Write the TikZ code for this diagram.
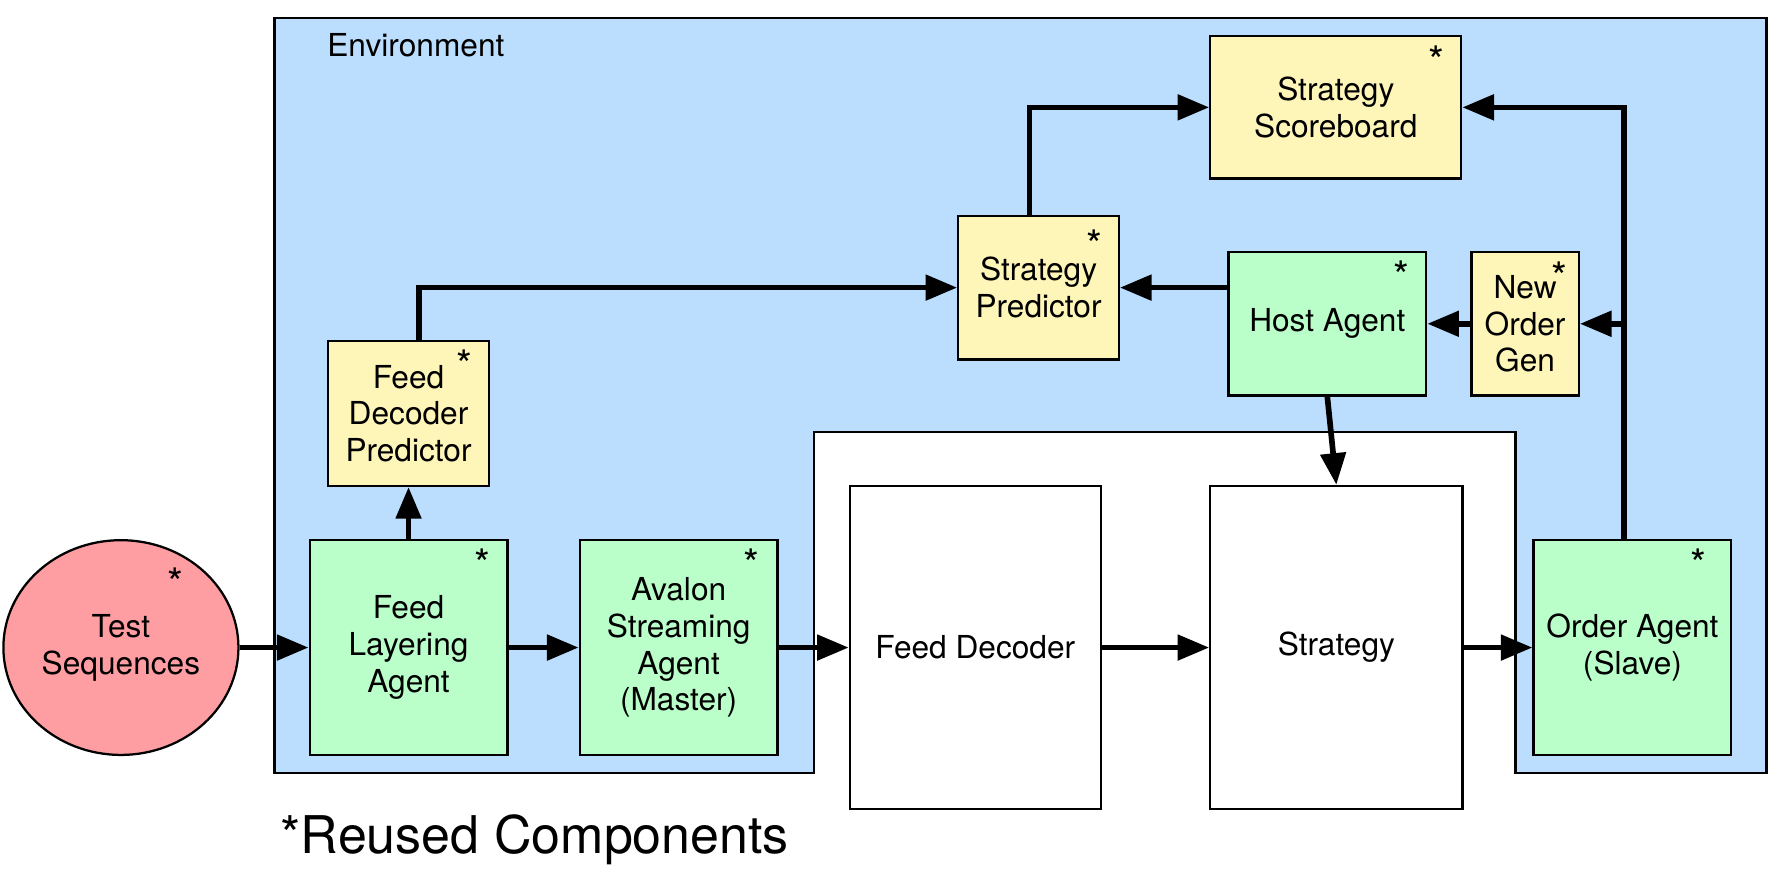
\documentclass[tikz,border=0pt]{standalone}
\usepackage{fontspec}
\setmainfont{TeX Gyre Heros}
\usetikzlibrary{arrows.meta,shapes.geometric}
\definecolor{envblue}{RGB}{187,222,254}
\definecolor{boxyellow}{RGB}{254,245,185}
\definecolor{boxgreen}{RGB}{186,254,202}
\definecolor{boxpink}{RGB}{254,158,162}
\begin{document}
\begin{tikzpicture}[x=0.5pt,y=-0.5pt,
  box/.style={draw=black, line width=1pt, inner sep=0pt, align=center,
    font=\fontsize{14}{16.3}\selectfont},
  ybox/.style={box, fill=boxyellow},
  gbox/.style={box, fill=boxgreen},
  wbox/.style={box, fill=white},
  starmark/.style={anchor=base, inner sep=0pt, font=\fontsize{18}{18}\selectfont},
  conn/.style={line width=2.5pt, -{Triangle[length=14pt,width=11pt]}},
]
\useasboundingbox (0,0) rectangle (1568,791);
% environment region
\draw[fill=envblue, line width=1pt] (243,16) -- (1563,16) -- (1563,684) -- (1341,684)
  -- (1341,382) -- (720,382) -- (720,684) -- (243,684) -- cycle;
\node[font=\fontsize{14}{16}\selectfont] (env) at (368,40) {Environment};

% nodes
\node[box, ellipse, fill=boxpink, minimum width=104pt, minimum height=95pt] (ts) at (107,573) {Test\\Sequences};
\node[gbox, minimum width=87.5pt, minimum height=95pt] (fla) at (361.5,573) {Feed\\Layering\\Agent};
\node[gbox, minimum width=87.5pt, minimum height=95pt] (asa) at (600.5,573) {Avalon\\Streaming\\Agent\\(Master)};
\node[ybox, minimum width=71.5pt, minimum height=64pt] (fdp) at (361.5,366) {Feed\\Decoder\\Predictor};
\node[wbox, minimum width=111pt, minimum height=143pt] (fd) at (863,573) {Feed Decoder};
\node[wbox, minimum width=111.5pt, minimum height=143pt] (st) at (1182.5,573) {Strategy};
\node[gbox, minimum width=87.5pt, minimum height=95pt] (oa) at (1444.5,573) {Order Agent\\(Slave)};
\node[ybox, minimum width=71pt, minimum height=63.5pt] (sp) at (919,254.5) {Strategy\\Predictor};
\node[gbox, minimum width=87.5pt, minimum height=63.5pt] (ha) at (1174.5,286.5) {Host Agent};
\node[ybox, minimum width=47.5pt, minimum height=63.5pt] (nog) at (1349.5,286.5) {New\\Order\\Gen};
\node[ybox, minimum width=111pt, minimum height=63pt] (ssb) at (1182,95) {Strategy\\Scoreboard};

% reuse marks
\node[starmark] (s1) at (155,529) {*};
\node[starmark] (s2) at (427,512) {*};
\node[starmark] (s3) at (665,512) {*};
\node[starmark] (s4) at (411,336) {*};
\node[starmark] (s5) at (968,230) {*};
\node[starmark] (s6) at (1240,257) {*};
\node[starmark] (s7) at (1380,258) {*};
\node[starmark] (s8) at (1271,67) {*};
\node[starmark] (s9) at (1503,512) {*};

% connectors
\draw[conn] (ts.east) -- (fla.west);
\draw[conn] (fla.east) -- (asa.west);
\draw[conn] (asa.east) -- (fd.west);
\draw[conn] (fd.east) -- (st.west);
\draw[conn] (st.east) -- (oa.west);
\draw[conn] (fla.north) -- (fdp.south);
\draw[conn] ([xshift=4.5pt]fdp.north) |- (sp.west);
\draw[conn] ([xshift=-4pt]sp.north) |- (ssb.west);
\draw[conn] ([xshift=-3.75pt]oa.north) |- (ssb.east);
\coordinate (j) at (1437,286.5);
\draw[conn] (j) -- (nog.east);
\draw[conn] (nog.west) -- (ha.east);
\draw[conn] (ha.west |- sp.east) -- (sp.east);
\draw[conn] (ha.south) -- (st.north);

\node[anchor=base west, inner sep=0pt, font=\fontsize{23}{26}\selectfont] (legend) at (248,755) {*Reused Components};
\end{tikzpicture}
\end{document}
